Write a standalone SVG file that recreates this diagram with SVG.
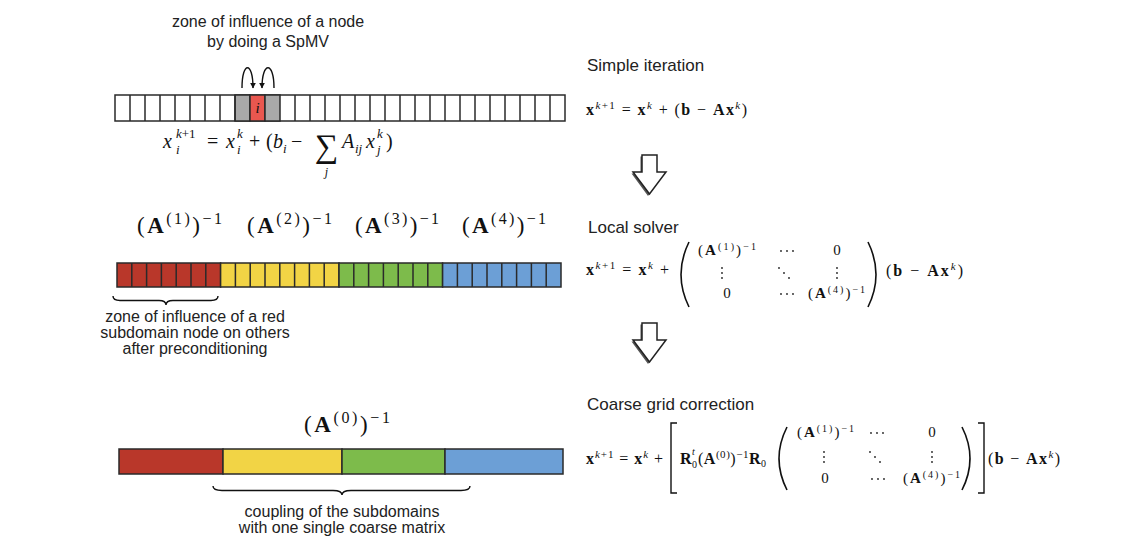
<svg xmlns="http://www.w3.org/2000/svg" width="1143" height="538" viewBox="0 0 1143 538">
<defs>
<style>
.sans{font-family:"Liberation Sans",Arial,sans-serif;fill:#222}
.lbl{font-size:16px;text-anchor:middle}
.hd{font-size:17px}
.m{font-family:"Liberation Serif","Times New Roman",serif;fill:#111}
.it{font-style:italic}
.b{font-weight:bold}
.cell{stroke:#2a2a2a;stroke-width:1.5}
.div{stroke:#2a2a2a;stroke-width:1.5;fill:none}
.line{stroke:#111;stroke-width:1.4;fill:none}
.paren{stroke:#111;stroke-width:1.6;fill:none}
.dot{fill:#222}
.blk{fill:#fff;stroke:#222;stroke-width:1.5;stroke-linejoin:miter}
.shadow{fill:#555}
</style>
<marker id="ah" viewBox="0 0 10 10" refX="9" refY="5" markerWidth="6" markerHeight="6" orient="auto" markerUnits="userSpaceOnUse">
<path d="M0,0 L10,5 L0,10 z" fill="#111"/>
</marker>
</defs>
<rect width="1143" height="538" fill="#fff"/>

<g id="top-caption">
<text class="sans lbl" x="268" y="27">zone of influence of a node</text>
<text class="sans lbl" x="268" y="46.5">by doing a SpMV</text>
</g>

<g id="bar-top">
<rect class="cell" x="115" y="95" width="450" height="26" fill="#fff"/>
<rect class="cell" x="235" y="95" width="15" height="26" fill="#a9a9a9"/>
<rect class="cell" x="250" y="95" width="15" height="26" fill="#e9574f"/>
<rect class="cell" x="265" y="95" width="15" height="26" fill="#a9a9a9"/>
<path class="div" d="M130,95v26M145,95v26M160,95v26M175,95v26M190,95v26M205,95v26M220,95v26M235,95v26M295,95v26M310,95v26M325,95v26M340,95v26M355,95v26M370,95v26M385,95v26M400,95v26M415,95v26M430,95v26M445,95v26M460,95v26M475,95v26M490,95v26M505,95v26M520,95v26M535,95v26M550,95v26"/>
<text class="m it" x="257.5" y="113" font-size="15" text-anchor="middle">i</text>
</g>

<g id="formula-top" class="m">
<text class="it" x="163" y="148" font-size="20">x</text>
<text x="176" y="138" font-size="13"><tspan class="it">k</tspan>+1</text>
<text class="it" x="176" y="154" font-size="13">i</text>
<text x="207" y="148" font-size="20">=</text>
<text class="it" x="226" y="148" font-size="20">x</text>
<text class="it" x="237" y="138" font-size="13">k</text>
<text class="it" x="237" y="154" font-size="13">i</text>
<text x="249" y="148" font-size="20">+</text>
<text x="266" y="148" font-size="20">(</text>
<text class="it" x="273" y="148" font-size="20">b</text>
<text class="it" x="283" y="153" font-size="13">i</text>
<text x="291" y="148" font-size="20">−</text>
<text x="326.5" y="157" font-size="33" text-anchor="middle">∑</text>
<text class="it" x="326.5" y="176" font-size="12" text-anchor="middle">j</text>
<text class="it" x="342" y="148" font-size="20">A</text>
<text class="it" x="355" y="153" font-size="13">ij</text>
<text class="it" x="366" y="148" font-size="20">x</text>
<text class="it" x="377" y="138" font-size="13">k</text>
<text class="it" x="377" y="154" font-size="13">j</text>
<text x="386" y="148" font-size="20">)</text>
</g>

<g id="labels-mid" class="m">
<text x="137" y="233" font-size="23" textLength="85" lengthAdjust="spacing">(<tspan class="b">A</tspan><tspan dy="-9" font-size="16">(1)</tspan><tspan dy="9">)</tspan><tspan dy="-9" font-size="16">−1</tspan></text>
<text x="247" y="233" font-size="23" textLength="85" lengthAdjust="spacing">(<tspan class="b">A</tspan><tspan dy="-9" font-size="16">(2)</tspan><tspan dy="9">)</tspan><tspan dy="-9" font-size="16">−1</tspan></text>
<text x="355" y="233" font-size="23" textLength="84" lengthAdjust="spacing">(<tspan class="b">A</tspan><tspan dy="-9" font-size="16">(3)</tspan><tspan dy="9">)</tspan><tspan dy="-9" font-size="16">−1</tspan></text>
<text x="462" y="233" font-size="23" textLength="84" lengthAdjust="spacing">(<tspan class="b">A</tspan><tspan dy="-9" font-size="16">(4)</tspan><tspan dy="9">)</tspan><tspan dy="-9" font-size="16">−1</tspan></text>
</g>

<g id="bar-mid">
<rect class="cell" x="117" y="263" width="103.6" height="24" fill="#b9372a"/>
<rect class="cell" x="220.6" y="263" width="118.4" height="24" fill="#f2d445"/>
<rect class="cell" x="339" y="263" width="103.6" height="24" fill="#7dbb4b"/>
<rect class="cell" x="442.6" y="263" width="118.4" height="24" fill="#6c9fd6"/>
<path class="div" d="M131.8,263v24M146.6,263v24M161.4,263v24M176.2,263v24M191,263v24M205.8,263v24M235.4,263v24M250.2,263v24M265,263v24M279.8,263v24M294.6,263v24M309.4,263v24M324.2,263v24M353.8,263v24M368.6,263v24M383.4,263v24M398.2,263v24M413,263v24M427.8,263v24M457.4,263v24M472.2,263v24M487,263v24M501.8,263v24M516.6,263v24M531.4,263v24M546.2,263v24"/>
</g>

<g id="caption-mid">
<text class="sans lbl" x="195" y="322">zone of influence of a red</text>
<text class="sans lbl" x="195" y="338">subdomain node on others</text>
<text class="sans lbl" x="195" y="354">after preconditioning</text>
</g>

<g id="label-bottom" class="m">
<text x="304" y="432" font-size="23" textLength="86" lengthAdjust="spacing">(<tspan class="b">A</tspan><tspan dy="-9" font-size="16">(0)</tspan><tspan dy="9">)</tspan><tspan dy="-9" font-size="16">−1</tspan></text>
</g>

<g id="bar-bottom">
<rect class="cell" x="119" y="449" width="104" height="25" fill="#b9372a"/>
<rect class="cell" x="223" y="449" width="119" height="25" fill="#f2d445"/>
<rect class="cell" x="342" y="449" width="103" height="25" fill="#7dbb4b"/>
<rect class="cell" x="445" y="449" width="118" height="25" fill="#6c9fd6"/>
</g>

<g id="caption-bottom">
<text class="sans lbl" x="342" y="517">coupling of the subdomains</text>
<text class="sans lbl" x="342" y="533">with one single coarse matrix</text>
</g>

<g id="simple-iteration">
<text class="sans hd" x="587" y="71">Simple iteration</text>
<text class="m" x="586" y="115" font-size="16" textLength="161" lengthAdjust="spacing"><tspan class="b">x</tspan><tspan dy="-6" font-size="11"><tspan class="it">k</tspan>+1</tspan><tspan dy="6"> = </tspan><tspan class="b">x</tspan><tspan dy="-6" font-size="11" class="it">k</tspan><tspan dy="6"> + (</tspan><tspan class="b">b</tspan> − <tspan class="b">Ax</tspan><tspan dy="-6" font-size="11" class="it">k</tspan><tspan dy="6">)</tspan></text>
</g>

<g id="local-solver" class="m">
<text class="sans hd" x="588" y="233">Local solver</text>
<text x="586" y="275" font-size="16" textLength="83" lengthAdjust="spacing"><tspan class="b">x</tspan><tspan dy="-6" font-size="11"><tspan class="it">k</tspan>+1</tspan><tspan dy="6"> = </tspan><tspan class="b">x</tspan><tspan dy="-6" font-size="11" class="it">k</tspan><tspan dy="6"> +</tspan></text>
<path class="paren" d="M689,242 Q673,274.5 689,307"/>
<text x="698" y="255" font-size="15" textLength="58" lengthAdjust="spacing">(<tspan class="b">A</tspan><tspan dy="-5" font-size="10">(1)</tspan><tspan dy="5">)</tspan><tspan dy="-5" font-size="10">−1</tspan></text>
<text x="837" y="255" font-size="15" text-anchor="middle">0</text>
<circle class="dot" cx="781" cy="251" r="0.9"/><circle class="dot" cx="787" cy="251" r="0.9"/><circle class="dot" cx="793" cy="251" r="0.9"/>
<circle class="dot" cx="722" cy="268" r="0.9"/><circle class="dot" cx="722" cy="273" r="0.9"/><circle class="dot" cx="722" cy="278" r="0.9"/>
<circle class="dot" cx="779" cy="268" r="0.9"/><circle class="dot" cx="784" cy="273" r="0.9"/><circle class="dot" cx="789" cy="278" r="0.9"/>
<circle class="dot" cx="837" cy="268" r="0.9"/><circle class="dot" cx="837" cy="273" r="0.9"/><circle class="dot" cx="837" cy="278" r="0.9"/>
<text x="727" y="298" font-size="15" text-anchor="middle">0</text>
<circle class="dot" cx="781" cy="294" r="0.9"/><circle class="dot" cx="787" cy="294" r="0.9"/><circle class="dot" cx="793" cy="294" r="0.9"/>
<text x="808" y="298" font-size="15" textLength="57" lengthAdjust="spacing">(<tspan class="b">A</tspan><tspan dy="-5" font-size="10">(4)</tspan><tspan dy="5">)</tspan><tspan dy="-5" font-size="10">−1</tspan></text>
<path class="paren" d="M868,242 Q884,274.5 868,307"/>
<text x="886" y="276" font-size="16" textLength="77" lengthAdjust="spacing">(<tspan class="b">b</tspan> − <tspan class="b">Ax</tspan><tspan dy="-6" font-size="11" class="it">k</tspan><tspan dy="6">)</tspan></text>
</g>

<g id="coarse-grid" class="m">
<text class="sans hd" x="587" y="410">Coarse grid correction</text>
<text x="586" y="464" font-size="16" textLength="77" lengthAdjust="spacing"><tspan class="b">x</tspan><tspan dy="-6" font-size="11"><tspan class="it">k</tspan>+1</tspan><tspan dy="6"> = </tspan><tspan class="b">x</tspan><tspan dy="-6" font-size="11" class="it">k</tspan><tspan dy="6"> +</tspan></text>
<path class="line" d="M677,423 H671 V493 H677"/>
<text class="b" x="680" y="464" font-size="16">R</text>
<text class="it" x="692" y="455" font-size="10">t</text>
<text x="692" y="468" font-size="10">0</text>
<text x="698" y="464" font-size="16" textLength="68" lengthAdjust="spacing">(<tspan class="b">A</tspan><tspan dy="-6" font-size="11">(0)</tspan><tspan dy="6">)</tspan><tspan dy="-6" font-size="11">−1</tspan><tspan dy="6" class="b">R</tspan><tspan dy="3" font-size="10">0</tspan></text>
<path class="paren" d="M787,427 Q771,458.5 787,490"/>
<text x="797" y="437" font-size="15" textLength="57" lengthAdjust="spacing">(<tspan class="b">A</tspan><tspan dy="-5" font-size="10">(1)</tspan><tspan dy="5">)</tspan><tspan dy="-5" font-size="10">−1</tspan></text>
<circle class="dot" cx="871" cy="433" r="0.9"/><circle class="dot" cx="877" cy="433" r="0.9"/><circle class="dot" cx="883" cy="433" r="0.9"/>
<text x="932" y="437" font-size="15" text-anchor="middle">0</text>
<circle class="dot" cx="824" cy="452" r="0.9"/><circle class="dot" cx="824" cy="457" r="0.9"/><circle class="dot" cx="824" cy="462" r="0.9"/>
<circle class="dot" cx="870" cy="452" r="0.9"/><circle class="dot" cx="875" cy="457" r="0.9"/><circle class="dot" cx="880" cy="462" r="0.9"/>
<circle class="dot" cx="932" cy="452" r="0.9"/><circle class="dot" cx="932" cy="457" r="0.9"/><circle class="dot" cx="932" cy="462" r="0.9"/>
<text x="825" y="483" font-size="15" text-anchor="middle">0</text>
<circle class="dot" cx="872" cy="479" r="0.9"/><circle class="dot" cx="878" cy="479" r="0.9"/><circle class="dot" cx="884" cy="479" r="0.9"/>
<text x="903" y="483" font-size="15" textLength="57" lengthAdjust="spacing">(<tspan class="b">A</tspan><tspan dy="-5" font-size="10">(4)</tspan><tspan dy="5">)</tspan><tspan dy="-5" font-size="10">−1</tspan></text>
<path class="paren" d="M962,427 Q978,458.5 962,490"/>
<path class="line" d="M978,423 H984 V493 H978"/>
<text x="988" y="464" font-size="16" textLength="72" lengthAdjust="spacing">(<tspan class="b">b</tspan> − <tspan class="b">Ax</tspan><tspan dy="-6" font-size="11" class="it">k</tspan><tspan dy="6">)</tspan></text>
</g>

<g id="connectors">
<path class="line" d="M242,88 C242,61 253,61 253,88" marker-end="url(#ah)"/>
<path class="line" d="M274,88 C274,61 262,61 262,88" marker-end="url(#ah)"/>
<path class="line" d="M113,296 Q113,300.5 120,300.5 L159,300.5 Q166,300.5 166,305 Q166,300.5 173,300.5 L211,300.5 Q218,300.5 218,296"/>
<path class="line" d="M213,486 Q213,490.5 222,490.5 L333,490.5 Q342,490.5 342,495 Q342,490.5 351,490.5 L461,490.5 Q470,490.5 470,486"/>
<polygon class="shadow" points="640.5,156.5 655.5,156.5 655.5,173.5 664.5,173.5 648,196 631.5,173.5 640.5,173.5"/>
<polygon class="blk" points="642,155 657,155 657,172 666,172 649.5,194 633,172 642,172"/>
<polygon class="shadow" points="640.5,324.5 655.5,324.5 655.5,341.5 664.5,341.5 648,364 631.5,341.5 640.5,341.5"/>
<polygon class="blk" points="642,323 657,323 657,340 666,340 649.5,362 633,340 642,340"/>
</g>
</svg>
